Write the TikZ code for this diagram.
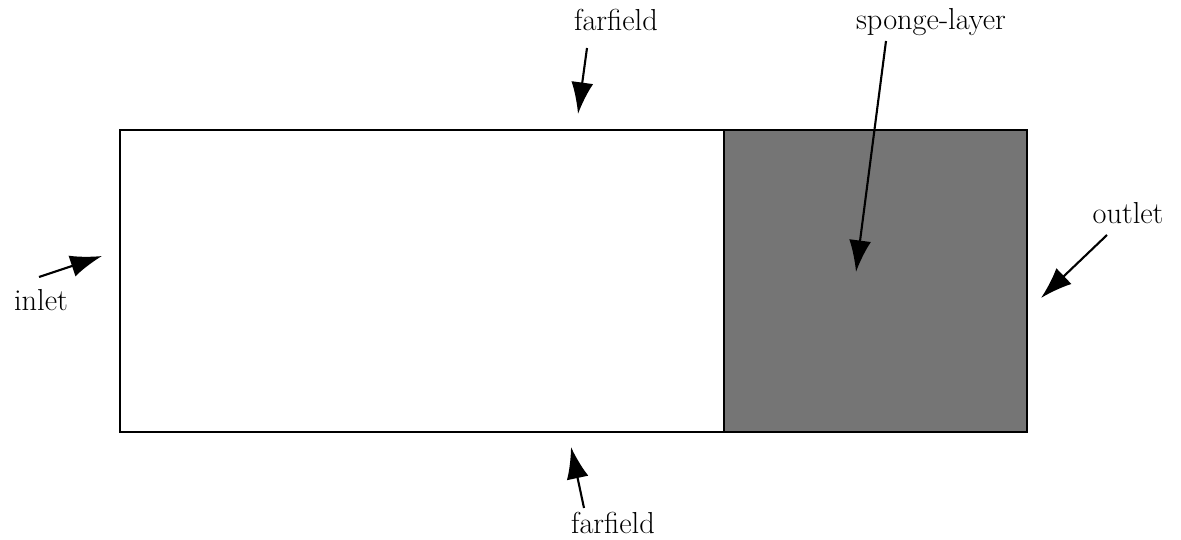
\documentclass[tikz,border=0pt]{standalone}
\usetikzlibrary{arrows.meta}
\definecolor{spongegray}{HTML}{757575}
\tikzset{
  lbl/.style={font=\LARGE, inner sep=0pt},
  pointer/.style={line width=1.2pt, -{Latex[length=18pt,width=12.5pt]}},
  boxline/.style={draw, line width=1.4pt}
}
\begin{document}
\begin{tikzpicture}[x=0.02cm,y=-0.02cm]
\useasboundingbox (0,0) rectangle (1181,540);
\fill[spongegray] (724,130) rectangle (1027,432);
\draw[boxline] (120,130) rectangle (1027,432);
\draw[boxline] (724,130) -- (724,432);
\node[lbl] (ftop) at (616,20) {farfield};
\node[lbl] (fbot) at (613,523) {farfield};
\node[lbl] (inlet) at (41,300) {inlet};
\node[lbl] (outlet) at (1128,213.5) {outlet};
\node[lbl] (sponge) at (931,22.5) {sponge-layer};
\coordinate (ftopS) at (587,48);
\coordinate (ftopE) at (578,114);
\coordinate (fbotS) at (584,508);
\coordinate (fbotE) at (571,447);
\coordinate (inS) at (39,277);
\coordinate (inE) at (102,256);
\coordinate (outS) at (1107,235);
\coordinate (outE) at (1041,298);
\coordinate (spS) at (886,41);
\coordinate (spE) at (856,272);
\draw[pointer] (ftopS) -- (ftopE);
\draw[pointer] (fbotS) -- (fbotE);
\draw[pointer] (inS) -- (inE);
\draw[pointer] (outS) -- (outE);
\draw[pointer] (spS) -- (spE);
\end{tikzpicture}
\end{document}
